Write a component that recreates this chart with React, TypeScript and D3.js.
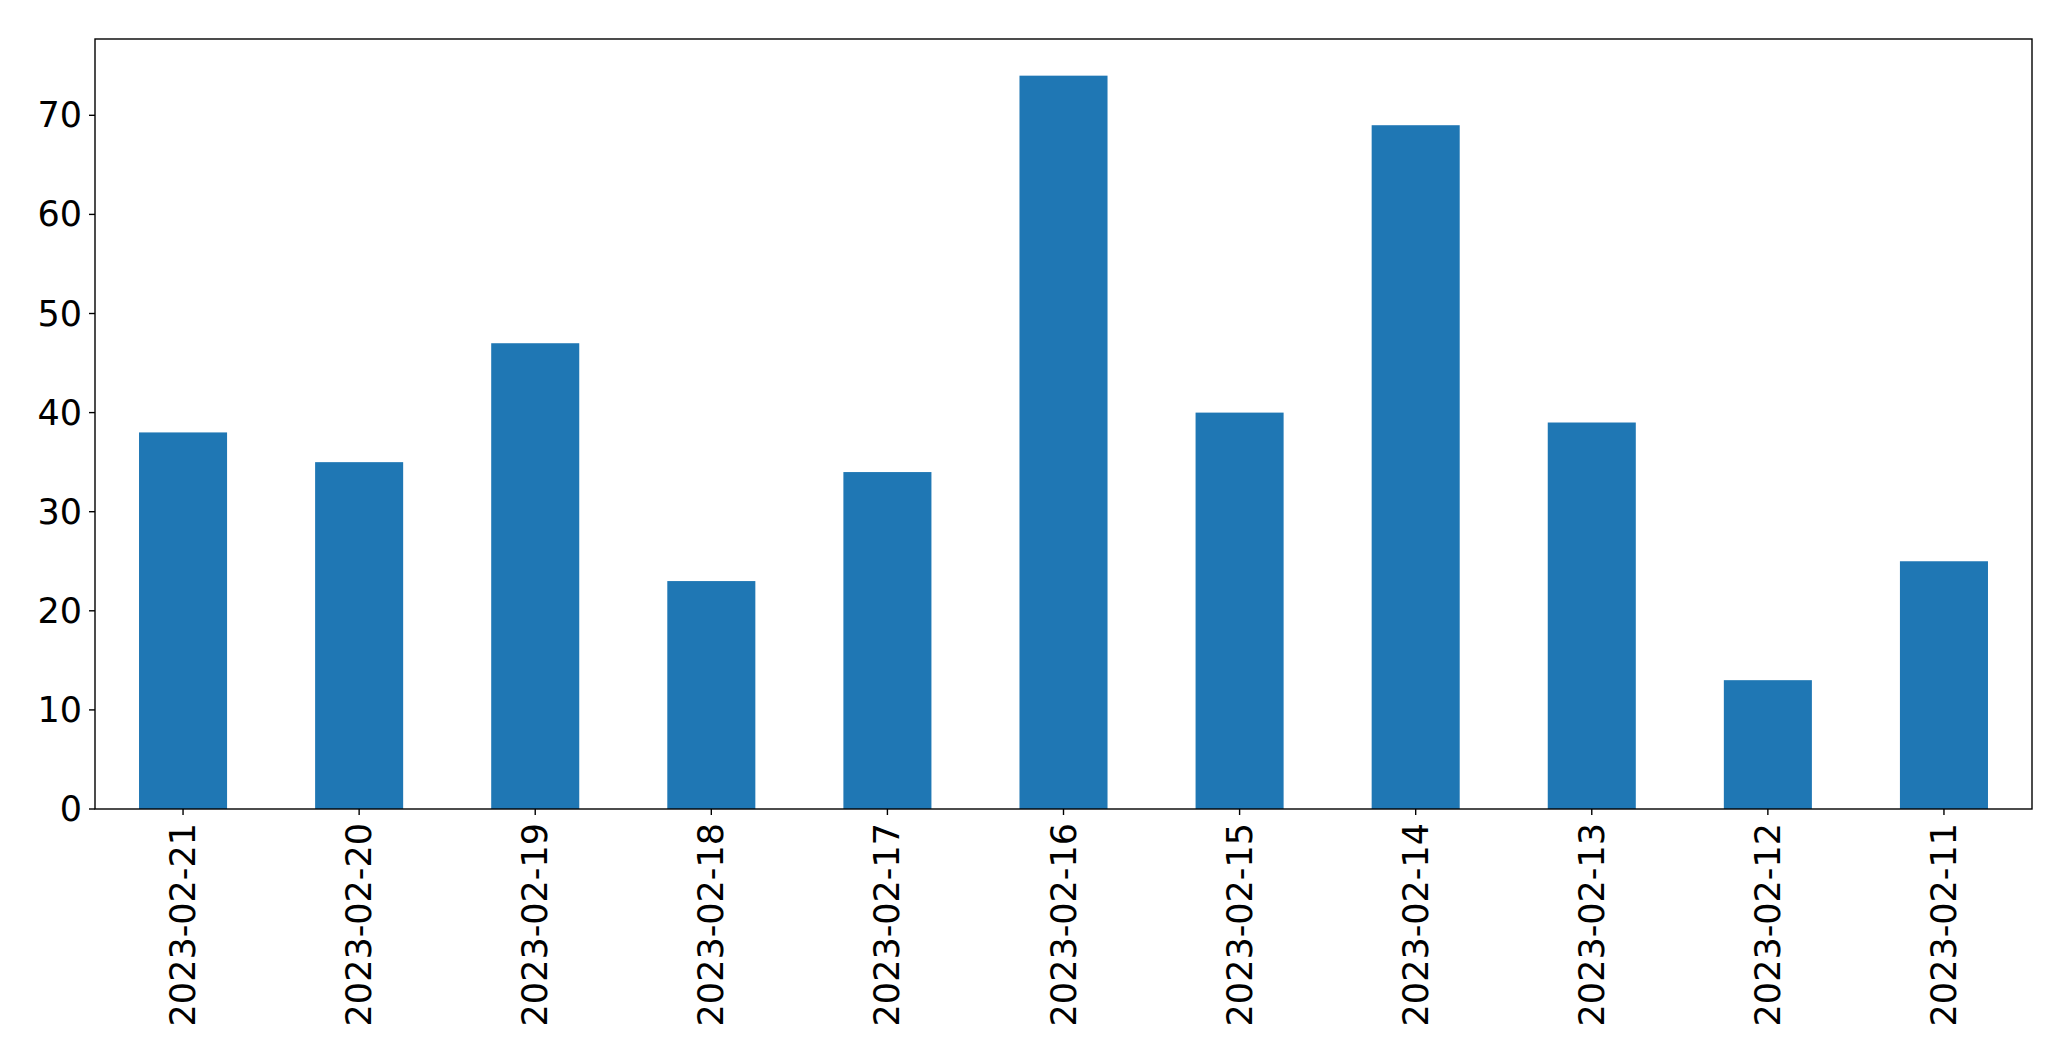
import React, { useRef, useEffect } from 'react';
import * as d3 from 'd3';

// Daily counts, in the order shown (newest first)
const dates = [
  '2023-02-21', '2023-02-20', '2023-02-19', '2023-02-18', '2023-02-17', '2023-02-16',
  '2023-02-15', '2023-02-14', '2023-02-13', '2023-02-12', '2023-02-11',
];
const counts = [38, 35, 47, 23, 34, 74, 40, 69, 39, 13, 25];
const yTicks = [0, 10, 20, 30, 40, 50, 60, 70];

const WIDTH = 2071;
const HEIGHT = 1061;
const margin = { top: 39, right: 39, bottom: 252, left: 95 };
const FONT = '"DejaVu Sans", sans-serif';
const BAR_COLOR = '#1f77b4';

export default function App(): React.ReactElement {
  const svgRef = useRef<SVGSVGElement>(null);

  useEffect(() => {
    document.body.style.margin = '0';
    if (!svgRef.current) return;
    const svg = d3.select(svgRef.current);
    svg.selectAll('*').remove();

    const innerW = WIDTH - margin.left - margin.right;
    const innerH = HEIGHT - margin.top - margin.bottom;

    // matplotlib-style category axis: xlim (-0.5, n - 0.5), bar width 0.5
    const x = d3.scaleLinear()
      .domain([-0.5, dates.length - 0.5])
      .range([0, innerW]);
    const yMax = (d3.max(counts) ?? 0) * 1.05;
    const y = d3.scaleLinear().domain([0, yMax]).range([innerH, 0]);

    const g = svg.append('g')
      .attr('transform', `translate(${margin.left},${margin.top})`);

    // Bars
    g.selectAll('rect.bar')
      .data(counts)
      .enter()
      .append('rect')
      .attr('class', 'bar')
      .attr('x', (_, i) => x(i - 0.25))
      .attr('width', x(0.25) - x(-0.25))
      .attr('y', (d) => y(d))
      .attr('height', (d) => innerH - y(d))
      .attr('fill', BAR_COLOR);

    // Y ticks
    const yAxis = g.append('g');
    yTicks.forEach((t) => {
      yAxis.append('line')
        .attr('x1', -6)
        .attr('x2', 0)
        .attr('y1', y(t))
        .attr('y2', y(t))
        .attr('stroke', '#000')
        .attr('stroke-width', 1.4);
      yAxis.append('text')
        .attr('x', -13)
        .attr('y', y(t))
        .attr('text-anchor', 'end')
        .attr('dominant-baseline', 'central')
        .attr('font-family', FONT)
        .attr('font-size', '35px')
        .attr('fill', '#000')
        .text(t);
    });

    // X ticks with rotated labels
    const xAxis = g.append('g').attr('transform', `translate(0,${innerH})`);
    dates.forEach((d, i) => {
      const cx = x(i);
      xAxis.append('line')
        .attr('x1', cx)
        .attr('x2', cx)
        .attr('y1', 0)
        .attr('y2', 6)
        .attr('stroke', '#000')
        .attr('stroke-width', 1.4);
      xAxis.append('text')
        .attr('transform', `translate(${cx},${14}) rotate(-90)`)
        .attr('text-anchor', 'end')
        .attr('dominant-baseline', 'central')
        .attr('font-family', FONT)
        .attr('font-size', '35px')
        .attr('fill', '#000')
        .text(d);
    });

    // Frame (spines)
    g.append('rect')
      .attr('x', 0)
      .attr('y', 0)
      .attr('width', innerW)
      .attr('height', innerH)
      .attr('fill', 'none')
      .attr('stroke', '#000')
      .attr('stroke-width', 1.4);
  }, []);

  return <svg ref={svgRef} width={WIDTH} height={HEIGHT} style={{ display: 'block', background: '#fff' }} />;
}
